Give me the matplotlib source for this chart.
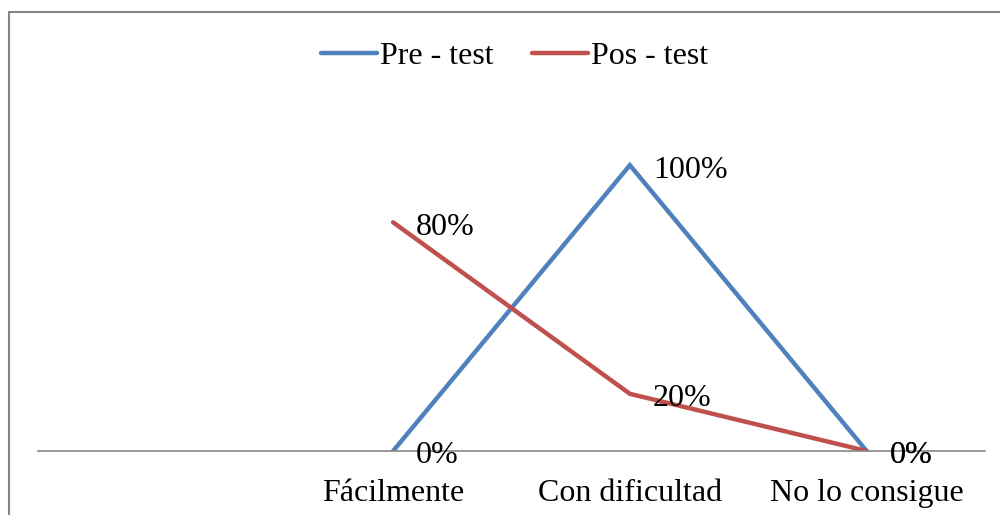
import numpy as np
import matplotlib
matplotlib.use("Agg")
import matplotlib.pyplot as plt
from matplotlib.patches import Rectangle

categories = ["", "Fácilmente", "Con dificultad", "No lo consigue"]
pre_test = [np.nan, 0, 100, 0]
pos_test = [np.nan, 80, 20, 0]
series_names = ["Pre - test", "Pos - test"]
colors = ["#4F81BD", "#C0504D"]

plt.rcParams["font.family"] = ["Liberation Serif", "DejaVu Serif"]

fig = plt.figure(figsize=(10, 5.15), dpi=100)
ax = fig.add_axes([0.038, 0.1243, 0.947, 0.666])

x = np.arange(len(categories))
for vals, name, col in zip([pre_test, pos_test], series_names, colors):
    ax.plot(x, vals, color=col, lw=3.2, label=name, solid_capstyle="round",
            solid_joinstyle="miter")
    for xi, v in zip(x, vals):
        if np.isnan(v):
            continue
        ax.annotate(f"{v:.0f}%", (xi, v), xytext=(23, -5),
                    textcoords="offset pixels", ha="left", va="center",
                    fontsize=23, color="black")

ax.set_xlim(-0.5, len(categories) - 0.5)
ax.set_ylim(0, 120)
ax.set_xticks(x)
ax.set_xticklabels(categories, fontsize=23)
ax.tick_params(axis="x", length=0, pad=20)
ax.set_yticks([])
for s in ["top", "right", "left"]:
    ax.spines[s].set_visible(False)
ax.spines["bottom"].set_color("#868686")
ax.spines["bottom"].set_linewidth(1.2)

leg = fig.legend(loc="center", bbox_to_anchor=(0.5145, 0.891), ncol=2,
                 frameon=False, fontsize=23, handlelength=1.75,
                 handletextpad=0.1, columnspacing=1.2)

fig.patches.append(Rectangle((0.009, -0.05), 1.1, (515 - 12) / 515 + 0.05,
                             transform=fig.transFigure, fill=False,
                             edgecolor="#868686", lw=1.5, clip_on=False))

fig.savefig("out.png", dpi=100)
